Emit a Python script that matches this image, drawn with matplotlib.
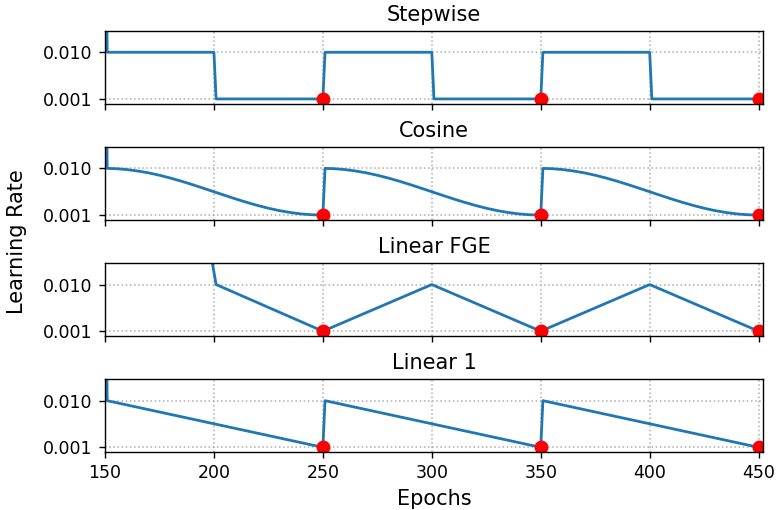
import numpy as np
import matplotlib
matplotlib.use("Agg")
import matplotlib.pyplot as plt

# values (epoch, learning rate)
titles = ["Stepwise", "Cosine", "Linear FGE", "Linear 1"]

step_x = [150, 151, 200, 201, 250, 251, 300, 301, 350, 351, 400, 401, 450]
step_y = [0.05, 0.010, 0.010, 0.001, 0.001, 0.010, 0.010, 0.001, 0.001,
          0.010, 0.010, 0.001, 0.001]

# one cosine cycle, sampled every 5 epochs
cos_offsets = [1, 5, 10, 15, 20, 25, 30, 35, 40, 45, 50,
               55, 60, 65, 70, 75, 80, 85, 90, 95, 100]
cos_cycle = [0.0100, 0.00995, 0.00978, 0.00950, 0.00914, 0.00868, 0.00814,
             0.00754, 0.00689, 0.00620, 0.00550, 0.00480, 0.00411, 0.00346,
             0.00286, 0.00232, 0.00186, 0.00150, 0.00122, 0.00106, 0.0010]
cos_starts = [150, 250, 350]

fge_x = [150, 199, 201, 250, 300, 350, 400, 450]
fge_y = [0.05, 0.0148, 0.010, 0.001, 0.010, 0.001, 0.010, 0.001]

lin_x = [150, 151, 250, 251, 350, 351, 450]
lin_y = [0.05, 0.010, 0.001, 0.010, 0.001, 0.010, 0.001]

snap_x = [250, 350, 450]
snap_y = [0.001, 0.001, 0.001]

x_ticks = [150, 200, 250, 300, 350, 400, 450]
y_ticks = [0.001, 0.010]

cos_x = [150]
cos_y = [0.05]
for s in cos_starts:
    cos_x += [s + o for o in cos_offsets]
    cos_y += cos_cycle

series = [(step_x, step_y), (cos_x, cos_y), (fge_x, fge_y), (lin_x, lin_y)]

fig, axes = plt.subplots(4, 1, sharex=True, figsize=(6.208, 4.08), dpi=125)
fig.subplots_adjust(left=0.1353, right=0.9832, top=0.9392, bottom=0.1137,
                    hspace=0.6)

for ax, title, (xs, ys) in zip(axes, titles, series):
    ax.plot(xs, ys, color="#1f77b4", lw=1.6)
    ax.plot(snap_x, snap_y, "ro", ms=7)
    ax.set_title(title, fontsize=12)
    ax.set_xlim(150, 452)
    ax.set_ylim(0.0001, 0.0141)
    ax.set_yticks(y_ticks)
    ax.set_yticklabels([f"{v:.3f}" for v in y_ticks])
    ax.set_xticks(x_ticks)
    ax.grid(ls=":", color="#b0b0b0", lw=0.9)

axes[-1].set_xlabel("Epochs", fontsize=12)
fig.text(0.0215, 0.527, "Learning Rate", rotation=90, ha="center",
         va="center", fontsize=12)

fig.savefig("out.png", dpi=125)
